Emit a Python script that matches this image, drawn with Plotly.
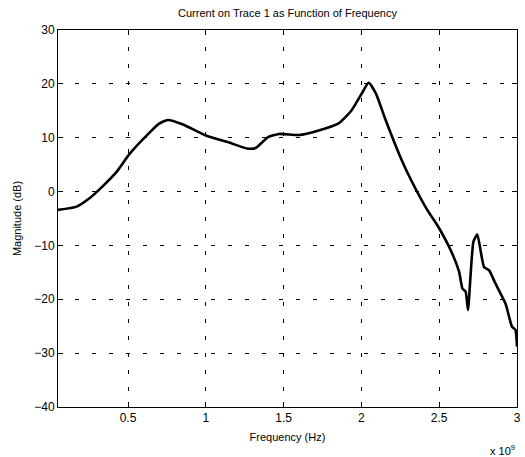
import plotly.graph_objects as go

# Frequency in units of 1e9 Hz, magnitude in dB
freq = [0.05, 0.17, 0.25, 0.32, 0.425, 0.51, 0.64, 0.70, 0.755, 0.85, 1.0, 1.15, 1.265,
        1.32, 1.40, 1.47, 1.60, 1.72, 1.85, 1.935, 2.0, 2.047, 2.095, 2.149, 2.255,
        2.32, 2.425, 2.489, 2.574, 2.628, 2.649, 2.67, 2.685, 2.72, 2.745, 2.788,
        2.82, 2.862, 2.926, 2.968, 2.99, 3.0]
mag = [-3.4, -2.8, -1.3, 0.5, 3.6, 7.0, 11.0, 12.6, 13.3, 12.5, 10.4, 9.1, 8.0,
       8.1, 10.1, 10.7, 10.5, 11.3, 12.6, 15.0, 18.1, 20.2, 18.1, 13.8, 6.1,
       2.1, -3.5, -6.3, -10.9, -14.9, -18.0, -18.6, -22.0, -9.3, -8.0, -14.0,
       -14.6, -17.1, -20.8, -25.1, -25.7, -28.8]

xticks = [0.5, 1, 1.5, 2, 2.5, 3]
xticklabels = ["0.5", "1", "1.5", "2", "2.5", "3"]
yticks = [-40, -30, -20, -10, 0, 10, 20, 30]

font = "Liberation Sans, Arial, Helvetica, sans-serif"

fig = go.Figure()
fig.add_trace(go.Scatter(x=freq, y=mag, mode="lines",
                         line=dict(color="black", width=2.6, shape="spline", smoothing=0.5),
                         showlegend=False, hoverinfo="skip"))

axis_common = dict(showline=True, linecolor="black", linewidth=1, mirror="ticks",
                   ticks="inside", ticklen=5, tickcolor="black",
                   showgrid=True, gridcolor="black", gridwidth=1, griddash="4px,13px",
                   zeroline=False, tickfont=dict(family=font, size=12, color="black"))

fig.update_xaxes(range=[0.05, 3.0], tickvals=xticks, ticktext=xticklabels,
                 title=dict(text="Frequency (Hz)", font=dict(family=font, size=11, color="black"), standoff=8),
                 **axis_common)
fig.update_yaxes(range=[-40, 30], tickvals=yticks,
                 title=dict(text="Magnitude (dB)", font=dict(family=font, size=11, color="black"), standoff=10),
                 **axis_common)

fig.update_layout(
    width=525, height=457,
    margin=dict(l=58, r=4, t=30, b=50),
    paper_bgcolor="white", plot_bgcolor="white",
    title=dict(text="Current on Trace 1 as Function of Frequency",
               font=dict(family=font, size=11, color="black"),
               x=0.5, xanchor="center", y=1 - 13 / 457, yanchor="middle", xref="paper"),
    annotations=[dict(text="x 10<sup>9</sup>", xref="paper", yref="paper",
                      x=1.0, y=0, xanchor="right", yanchor="top", yshift=-34,
                      showarrow=False, font=dict(family=font, size=11, color="black"))],
)

fig.write_html("out.html")
